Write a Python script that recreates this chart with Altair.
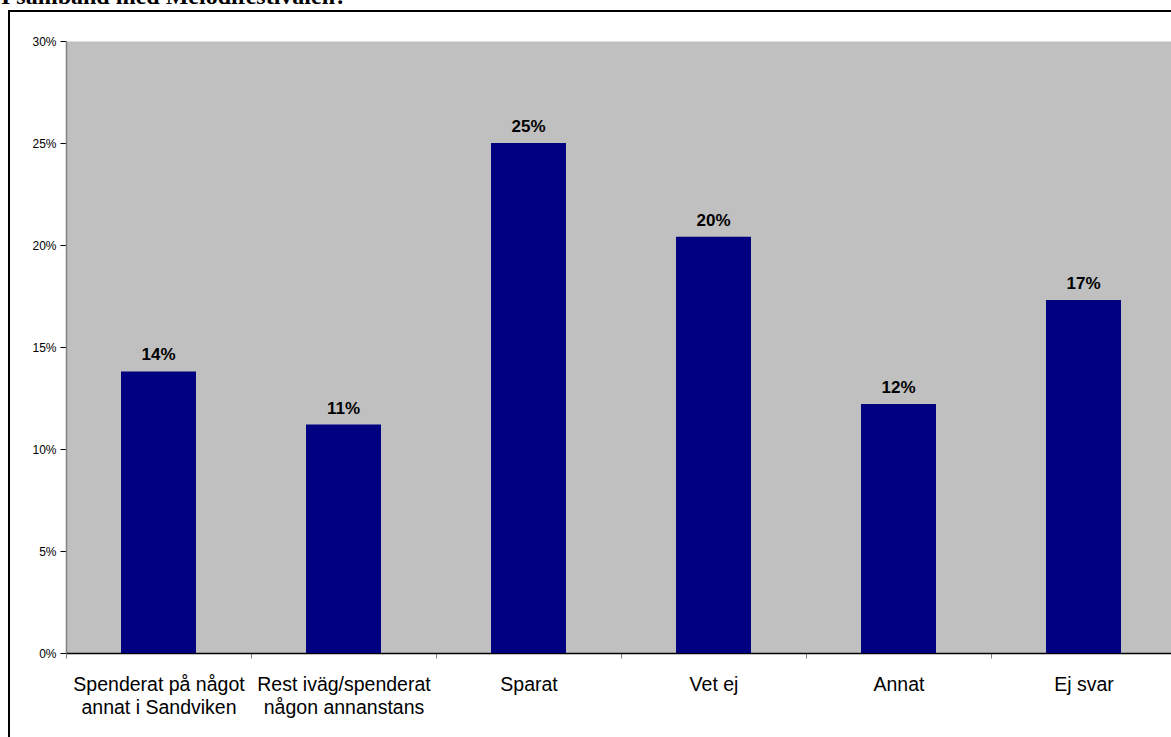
import altair as alt
import pandas as pd

# ---- data ----
categories = [
    "Spenderat på något\nannat i Sandviken",
    "Rest iväg/spenderat\nnågon annanstans",
    "Sparat",
    "Vet ej",
    "Annat",
    "Ej svar",
]
values = [0.138, 0.112, 0.250, 0.204, 0.122, 0.173]
y_ticks = [0.0, 0.05, 0.10, 0.15, 0.20, 0.25, 0.30]
title_text = ["I samband med Melodifestivalen?"]

FONT = "Arial, Liberation Sans, sans-serif"

df = pd.DataFrame({"kategori": categories, "andel": values})

x_enc = alt.X(
    "kategori:N",
    sort=None,
    title=None,
    scale=alt.Scale(range=[0, 1110], padding=0),
    axis=alt.Axis(
        labelAngle=0,
        tickBand="extent",
        labelExpr="split(datum.label, '\\n')",
        labelFont=FONT,
        labelFontSize=19.5,
        labelLineHeight=23,
        labelPadding=17,
        labelBaseline="top",
        labelColor="#000000",
        labelLimit=400,
        labelOverlap=False,
        domainColor="#000000",
        domainWidth=1.5,
        tickColor="#808080",
        tickSize=5,
    ),
)
y_enc = alt.Y(
    "andel:Q",
    title=None,
    scale=alt.Scale(domain=[0, 0.3], nice=False),
    axis=alt.Axis(
        values=y_ticks,
        format=".0%",
        grid=False,
        labelFont=FONT,
        labelFontSize=12,
        labelColor="#000000",
        labelPadding=4,
        tickSize=6,
        tickColor="#000000",
        domainColor="#808080",
        domainWidth=1.5,
    ),
)

base = alt.Chart(df)

bars = base.mark_bar(color="#000080", size=75).encode(x=x_enc, y=y_enc)

labels = base.mark_text(
    font=FONT, fontWeight="bold", fontSize=17, baseline="alphabetic", dy=-11, color="#000000"
).encode(x=x_enc, y=y_enc, text=alt.Text("andel:Q", format=".0%"))

one = pd.DataFrame({"k": [0]})
frame_v = alt.Chart(one).mark_rule(color="#000000", strokeWidth=2).encode(
    x=alt.value(-57), y=alt.value(-30), y2=alt.value(900)
)
frame_h = alt.Chart(one).mark_rule(color="#000000", strokeWidth=2).encode(
    x=alt.value(-58), x2=alt.value(1300), y=alt.value(-30)
)

title_df = pd.DataFrame({"t": title_text})
title = alt.Chart(title_df).mark_text(
    font="Liberation Serif, Times New Roman, serif",
    fontWeight="bold",
    fontSize=24,
    align="left",
    baseline="alphabetic",
    color="#000000",
).encode(x=alt.value(-65), y=alt.value(-37), text="t:N")

chart = (
    alt.layer(bars, labels, frame_v, frame_h, title)
    .properties(
        width=1105,
        height=612,
        autosize=alt.AutoSizeParams(type="none"),
        padding={"left": 66, "top": 41, "right": 0, "bottom": 84},
        background="#ffffff",
    )
    .configure_view(fill="#C0C0C0", stroke="transparent")
)

chart.save("out.html", embed_options={"renderer": "svg", "actions": False})
